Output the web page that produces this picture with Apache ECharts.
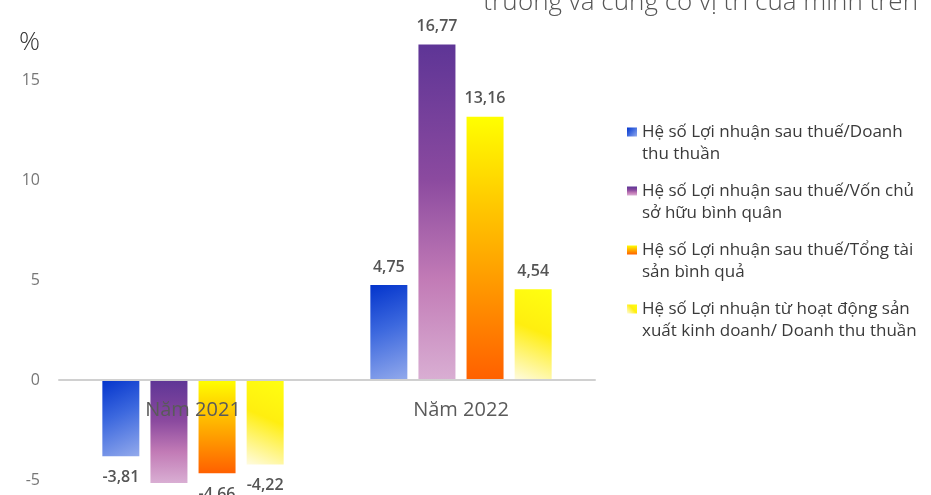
<!DOCTYPE html>
<html>
<head>
<meta charset="utf-8">
<script src="https://cdn.jsdelivr.net/npm/echarts@6/dist/echarts.min.js"></script>
<style>
  html, body { margin: 0; padding: 0; background: #fff; }
  #chart { width: 931px; height: 495px; }
</style>
</head>
<body>
<div id="chart"></div>
<script>
// Years on the category axis
const years = ['Năm 2021', 'Năm 2022'];

// Ratio names (legend entries) and their wrapped legend text
const ratioNames = [
  'Hệ số Lợi nhuận sau thuế/Doanh thu thuần',
  'Hệ số Lợi nhuận sau thuế/Vốn chủ sở hữu bình quân',
  'Hệ số Lợi nhuận sau thuế/Tổng tài sản bình quả',
  'Hệ số Lợi nhuận từ hoạt động sản xuất kinh doanh/ Doanh thu thuần'
];
const ratioLegendLines = [
  ['Hệ số Lợi nhuận sau thuế/Doanh', 'thu thuần'],
  ['Hệ số Lợi nhuận sau thuế/Vốn chủ', 'sở hữu bình quân'],
  ['Hệ số Lợi nhuận sau thuế/Tổng tài', 'sản bình quả'],
  ['Hệ số Lợi nhuận từ hoạt động sản', 'xuất kinh doanh/ Doanh thu thuần']
];

// Values (%) per ratio, one entry per year
const netMarginValues = [-3.81, 4.75];
const roeValues = [-5.15, 16.77];
const roaValues = [-4.66, 13.16];
const operatingMarginValues = [-4.22, 4.54];

// Value axis ticks
const yMin = -5;
const yMax = 17.5;
const yInterval = 5;

const ratioValues = [netMarginValues, roeValues, roaValues, operatingMarginValues];

const grad = (x, y, x2, y2, stops) => new echarts.graphic.LinearGradient(
  x, y, x2, y2, stops.map(([offset, color]) => ({ offset, color }))
);

const fills = [
  grad(0, 0, 1, 1, [[0, '#0334cc'], [0.45, '#3c68de'], [1, '#93aaec']]),
  grad(0, 0, 0, 1, [[0, '#5e3596'], [0.4, '#8b4a9f'], [0.7, '#c27bb6'], [1, '#d9aed3']]),
  grad(0, 0, 0, 1, [[0, '#ffff00'], [0.35, '#ffc600'], [1, '#ff6000']]),
  grad(1, 0, 0, 1, [[0, '#ffff10'], [0.45, '#ffee10'], [1, '#fffbe0']])
];

const fmt = v => v.toFixed(2).replace('.', ',');

const series = ratioNames.map((name, i) => ({
  name,
  type: 'bar',
  barWidth: 37,
  barGap: '30%',
  clip: false,
  itemStyle: { color: fills[i] },
  label: {
    show: true,
    distance: 10,
    color: '#555',
    fontFamily: 'Open Sans',
    fontSize: 16,
    fontWeight: 600,
    formatter: p => fmt(p.value)
  },
  // negative bars carry their value below the bar end
  data: ratioValues[i].map(v => ({
    value: v,
    label: v < 0 ? { position: 'bottom', distance: 13 } : { position: 'top' }
  }))
}));

const chart = echarts.init(document.getElementById('chart'), null, { renderer: 'canvas' });
chart.setOption({
  animation: false,
  backgroundColor: '#ffffff',
  title: [
    {
      text: 'trường và củng cố vị trí của mình trên',
      right: 13,
      top: -10,
      padding: 0,
      textStyle: { fontFamily: 'Open Sans', fontSize: 26, fontWeight: 300, color: '#555' }
    },
    {
      text: '%',
      left: 19,
      top: 30,
      padding: 0,
      textStyle: { fontFamily: 'Open Sans', fontSize: 26, fontWeight: 300, color: '#333' }
    }
  ],
  grid: { left: 59, right: 336, top: 30, bottom: 15, outerBoundsMode: 'none' },
  legend: {
    orient: 'vertical',
    left: 627,
    top: 99,
    padding: 0,
    itemWidth: 10,
    itemHeight: 9,
    itemGap: -7,
    icon: 'rect',
    data: ratioNames,
    // leading blank line keeps the icon level with the first text line
    formatter: name => ' \n' + ratioLegendLines[ratioNames.indexOf(name)].join('\n'),
    textStyle: {
      fontFamily: 'Open Sans',
      fontSize: 17,
      color: '#3a3a3a',
      lineHeight: 22
    }
  },
  xAxis: {
    type: 'category',
    data: years,
    z: 5,
    position: 'bottom',
    offset: -100,
    axisLine: { onZero: false, lineStyle: { color: '#d0d0d0', width: 2 } },
    axisTick: { show: false },
    axisLabel: {
      margin: 20,
      fontFamily: 'Open Sans',
      fontSize: 20,
      color: '#5a5a5a'
    }
  },
  yAxis: {
    type: 'value',
    min: yMin,
    max: yMax,
    interval: yInterval,
    axisLine: { show: false },
    axisTick: { show: false },
    splitLine: { show: false },
    axisLabel: {
      showMaxLabel: false,
      margin: 19,
      fontFamily: 'Open Sans',
      fontSize: 16,
      color: '#777'
    }
  },
  series
});
</script>
</body>
</html>
